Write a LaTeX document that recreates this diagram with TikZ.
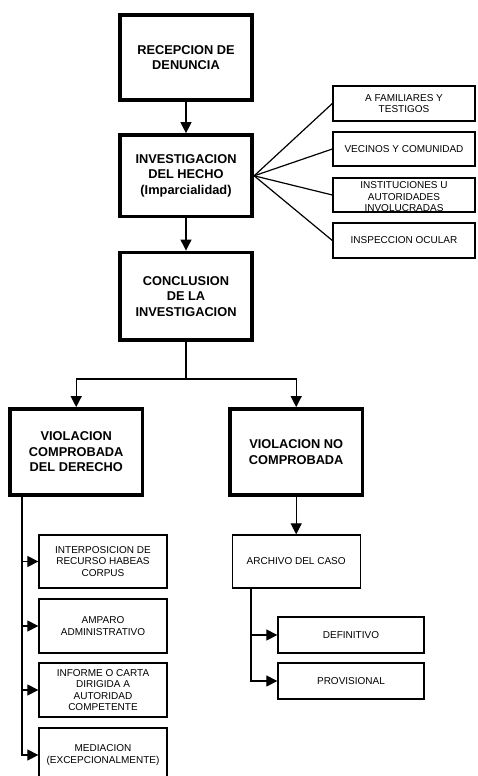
\documentclass[tikz,border=0pt]{standalone}
\usepackage{fontspec}
\setmainfont{Liberation Sans}
\usetikzlibrary{arrows.meta}

\begin{document}
\begin{tikzpicture}[x=1pt, y=-1pt,
    bigbox/.style={draw, line width=3.8pt, minimum width=132.5pt, inner sep=0pt, align=center,
        font=\bfseries\fontsize{12.8}{15.5}\selectfont},
    smallbox/.style={draw, line width=1.3pt, inner sep=0pt, align=center,
        font=\fontsize{10}{11.5}\selectfont},
    arrow/.style={-{Triangle[width=11pt,length=11pt]}, line width=1.2pt},
    link/.style={line width=1.2pt}]
    % 1. Page frame (the last box runs off the bottom edge)
    \useasboundingbox (0,0) rectangle (477,776);
    \clip (0,0) rectangle (477,776);

    % 2. Main column
    \node[bigbox, minimum height=85pt]   (recep) at (186,57.5)  {RECEPCION DE\\DENUNCIA};
    \node[bigbox, minimum height=81.5pt] (inv)   at (186,175.8) {INVESTIGACION\\DEL HECHO\\(Imparcialidad)};
    \node[bigbox, minimum height=87.5pt] (conc)  at (186,296.2) {CONCLUSION\\DE LA\\INVESTIGACION};

    % 3. Investigation sources
    \node[smallbox, minimum width=142pt, minimum height=35pt] (fam)  at (404,103.5) {A FAMILIARES Y\\TESTIGOS};
    \node[smallbox, minimum width=142pt, minimum height=34pt] (vec)  at (404,149)   {VECINOS Y COMUNIDAD};
    % text runs over the lower edge here
    \node[smallbox, minimum width=142pt, minimum height=34pt,
          label={[font=\fontsize{10}{11.5}\selectfont, align=center, yshift=-2pt]center:INSTITUCIONES U\\AUTORIDADES\\INVOLUCRADAS}]
          (inst) at (404,195) {};
    \node[smallbox, minimum width=142pt, minimum height=35pt] (ocul) at (404,240.5) {INSPECCION OCULAR};

    % 4. Outcomes
    \node[bigbox, minimum height=86pt] (vcd) at (76.2,452)  {VIOLACION\\COMPROBADA\\DEL DERECHO};
    \node[bigbox, minimum height=86pt] (vnc) at (296.2,452) {VIOLACION NO\\COMPROBADA};

    % 5. Actions for a proven violation
    \node[smallbox, minimum width=128pt, minimum height=53pt] (ihc) at (103,561.5) {INTERPOSICION DE\\RECURSO HABEAS\\CORPUS};
    \node[smallbox, minimum width=128pt, minimum height=54pt] (amp) at (103,626)   {AMPARO\\ADMINISTRATIVO};
    \node[smallbox, minimum width=128pt, minimum height=54pt] (inf) at (103,690)   {INFORME O CARTA\\DIRIGIDA A\\AUTORIDAD\\COMPETENTE};
    \node[smallbox, minimum width=128pt, minimum height=54pt] (med) at (103,755)   {MEDIACION\\(EXCEPCIONALMENTE)};

    % 6. Case filing
    \node[smallbox, minimum width=128pt, minimum height=53pt] (arch) at (296.2,561.5) {ARCHIVO DEL CASO};
    \node[smallbox, minimum width=146pt, minimum height=36pt] (def)  at (351,635)   {DEFINITIVO};
    \node[smallbox, minimum width=146pt, minimum height=36pt] (prov) at (351,681)   {PROVISIONAL};

    % 7. Connectors
    \draw[arrow] (recep) -- (inv);
    \draw[arrow] (inv) -- (conc);
    \foreach \src in {fam,vec,inst,ocul}
        \draw[link] (inv.east) -- (\src.west);

    \coordinate (split) at (186,379);
    \draw[link] (conc) -- (split);
    \draw[arrow] (split) -| (vcd.north);
    \draw[arrow] (split) -| (vnc.north);

    \coordinate (vcdbus) at (22,497);
    \foreach \act in {ihc,amp,inf,med}
        \draw[arrow] (vcdbus) |- (\act.west);

    \draw[arrow] (vnc) -- (arch);
    \coordinate (archbus) at (251,588);
    \draw[arrow] (archbus) |- (def.west);
    \draw[arrow] (archbus) |- (prov.west);
\end{tikzpicture}
\end{document}
